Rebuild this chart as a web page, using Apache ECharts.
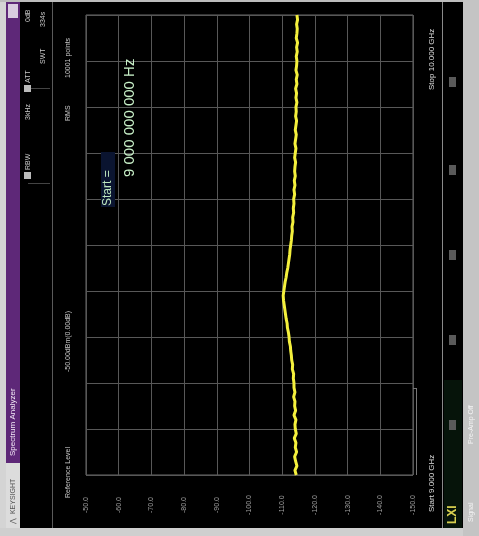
<!DOCTYPE html>
<html>
<head>
<meta charset="utf-8">
<script src="https://cdn.jsdelivr.net/npm/echarts@6/dist/echarts.min.js"></script>
<style>
  html, body { margin: 0; padding: 0; background: #c8c8c8; }
  #chart { width: 479px; height: 536px; }
</style>
</head>
<body>
<div id="chart"></div>
<script>
// sweep settings (the screenshot is rotated: frequency runs bottom -> top)
var startGHz = 9.0;
var stopGHz = 10.0;

// amplitude tick labels, reference level on the left
var ampTicks = [-50, -60, -70, -80, -90, -100, -110, -120, -130, -140, -150];

// trace, dBm, 101 samples from start to stop
var traceDbm = [
  -114.3, -113.9, -114.5, -114.1, -113.8, -114.4, -114.0, -114.2, -113.7, -114.3, -114.0,
  -113.9, -114.2, -113.6, -114.1, -113.8, -113.9, -113.5, -113.9, -113.6, -113.6,
  -113.4, -113.5, -113.1, -113.2, -112.9, -112.8, -112.6, -112.5, -112.2, -112.1,
  -111.9, -111.6, -111.5, -111.2, -111.0, -110.8, -110.6, -110.4, -110.3, -110.5,
  -110.7, -110.9, -111.2, -111.4, -111.7, -111.9, -112.1, -112.3, -112.4, -112.6,
  -112.8, -112.9, -113.1, -113.0, -113.3, -113.2, -113.5, -113.4, -113.6, -113.5,
  -113.8, -113.6, -113.9, -113.7, -114.0, -113.8, -113.9, -114.1, -113.8, -114.0,
  -114.2, -113.9, -114.1, -114.3, -114.0, -114.2, -114.4, -114.1, -114.3, -114.2,
  -114.5, -114.2, -114.4, -114.1, -114.5, -114.3, -114.6, -114.2, -114.4, -114.5,
  -114.3, -114.6, -114.4, -114.7, -114.3, -114.5, -114.6, -114.4, -114.7, -114.5
];

var chart = echarts.init(document.getElementById('chart'));

var points = [];
for (var i = 0; i < traceDbm.length; i++) {
  var f = startGHz + (stopGHz - startGHz) * i / (traceDbm.length - 1);
  points.push([traceDbm[i], f]);
}

// rotated text, reads bottom to top; (x, y) = where the text starts
function vt(x, y, text, size, color, extra) {
  var el = {
    type: 'text',
    x: x,
    y: y,
    rotation: Math.PI / 2,
    z: 10,
    style: {
      text: text,
      fill: color || '#c8c8c8',
      font: (size || 8) + 'px "Liberation Sans", Arial, sans-serif',
      textAlign: 'left',
      textVerticalAlign: 'middle',
      align: 'left',
      verticalAlign: 'middle'
    }
  };
  if (extra) {
    for (var k in extra) el.style[k] = extra[k];
  }
  return el;
}

function box(x, y, w, h, color, stroke) {
  return {
    type: 'rect',
    z: 5,
    shape: { x: x, y: y, width: w, height: h },
    style: stroke ? { fill: 'none', stroke: color, lineWidth: 1 } : { fill: color }
  };
}

function line(x1, y1, x2, y2, color) {
  return {
    type: 'line',
    z: 5,
    shape: { x1: x1, y1: y1, x2: x2, y2: y2 },
    style: { stroke: color, lineWidth: 1 }
  };
}

var graphics = [
  // outer light frame
  box(0, 0, 6, 536, '#d4d4d4'),
  box(0, 528, 479, 8, '#cfcfcf'),
  box(0, 0, 479, 2, '#bdbdbd'),
  box(463, 0, 16, 536, '#c4c4c4'),
  // title strip
  box(6, 2, 14, 461, '#5e2878'),
  box(8, 4, 10, 14, '#d9cce0'),
  box(6, 463, 14, 65, '#dcdcdc'),
  vt(13, 456, 'Spectrum Analyzer', 8, '#f2e8f6'),
  vt(13, 524, '\u22C0  KEYSIGHT', 7, '#555555'),
  // header separator
  line(52.5, 2, 52.5, 528, '#5a5a5a'),
  line(28, 88.5, 50, 88.5, '#444'),
  line(28, 183.5, 50, 183.5, '#444'),
  // settings block
  box(24, 172, 7, 7, '#bbbbbb'),
  vt(28, 170, 'RBW', 7),
  vt(28, 120, '3kHz', 7),
  box(24, 85, 7, 7, '#bbbbbb'),
  vt(28, 83, 'ATT', 7),
  vt(28, 22, '0dB', 7),
  vt(43, 64, 'SWT', 7),
  vt(43, 27, '334s', 7),
  vt(68, 78, '10001 points', 7),
  vt(68, 121, 'RMS', 7),
  vt(68, 498, 'Reference Level', 7),
  vt(68, 372, '-50.00dBm(0.00dB)', 7),
  // marker readout
  box(101, 152, 14, 55, '#0a1430'),
  vt(108, 206, 'Start =', 12, '#bfe8bf'),
  vt(130, 177, '9 000 000 000 Hz', 15, '#c8f0c8'),
  // start / stop
  vt(432, 512, 'Start 9.000 GHz', 8, '#dddddd'),
  vt(432, 90, 'Stop 10.000 GHz', 8, '#dddddd'),
  line(416.5, 388, 416.5, 475, '#777'),
  line(413, 388.5, 417, 388.5, '#777'),
  // right panel
  line(442.5, 2, 442.5, 528, '#8a8a8a'),
  box(444, 380, 18, 148, '#06140a'),
  box(449, 77, 7, 10, '#5a5a5a'),
  box(449, 165, 7, 10, '#5a5a5a'),
  box(449, 250, 7, 10, '#5a5a5a'),
  box(449, 335, 7, 10, '#5a5a5a'),
  box(449, 420, 7, 10, '#5a5a5a'),
  vt(453, 524, 'LXI', 7, '#d8d050', { fontWeight: 'bold' }),
  vt(471, 444, 'Pre-Amp Off', 7, '#f4f4f4'),
  vt(471, 522, 'Signal', 7, '#f4f4f4')
];

var option = {
  backgroundColor: '#000000',
  animation: false,
  grid: {
    left: 86,
    right: 66,
    top: 15,
    bottom: 61,
    show: true,
    borderColor: '#6a6a6a',
    borderWidth: 1
  },
  xAxis: {
    type: 'value',
    min: -150,
    max: -50,
    interval: 10,
    inverse: true,
    axisLine: { show: false },
    axisTick: { show: false },
    splitLine: { show: true, lineStyle: { color: '#585858', width: 1 } },
    axisLabel: {
      rotate: 90,
      align: 'center',
      margin: 30,
      color: '#a0a0a0',
      fontSize: 7,
      fontFamily: 'Liberation Sans',
      formatter: function (v) {
        return ampTicks.indexOf(v) >= 0 ? v.toFixed(1) : '';
      }
    }
  },
  yAxis: {
    type: 'value',
    min: startGHz,
    max: stopGHz,
    interval: 0.1,
    axisLine: { show: false },
    axisTick: { show: false },
    axisLabel: { show: false },
    splitLine: { show: true, lineStyle: { color: '#585858', width: 1 } }
  },
  series: [{
    type: 'line',
    data: points,
    showSymbol: false,
    smooth: false,
    lineStyle: { color: '#f4f03c', width: 3 },
    z: 3
  }],
  graphic: graphics
};

chart.setOption(option);
</script>
</body>
</html>
